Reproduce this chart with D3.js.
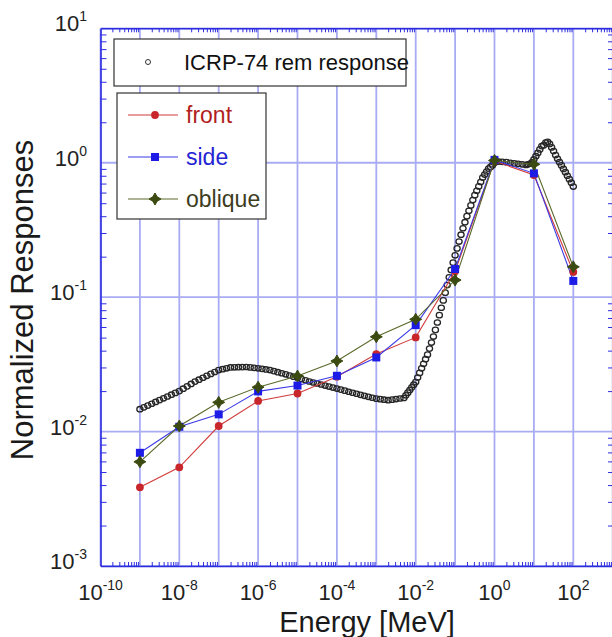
<!DOCTYPE html>
<html><head><meta charset="utf-8">
<script src="https://cdn.jsdelivr.net/npm/d3@7"></script>
<style>body{margin:0;background:#fff}svg{display:block}</style>
</head><body>
<svg id="c" width="612" height="637"></svg>
<script>
// ---------- data ----------
const energies = [1e-9,1e-8,1e-7,1e-6,1e-5,1e-4,1e-3,1e-2,1e-1,1e0,1e1,1e2];
const front   = [0.00385,0.00542,0.0110,0.0169,0.0192,0.0256,0.0377,0.0502,0.156,1.03,0.81,0.154];
const side    = [0.00695,0.01086,0.01343,0.0199,0.0220,0.0260,0.0356,0.0619,0.162,1.05,0.834,0.132];
const oblique = [0.00596,0.0110,0.0165,0.0214,0.0259,0.0335,0.0507,0.0684,0.134,1.04,0.973,0.168];

const icrpLogEnergy = [-9.0,-8.9,-8.8,-8.7,-8.6,-8.5,-8.4,-8.3,-8.2,-8.1,-8.0,-7.9,-7.8,-7.7,-7.6,-7.5,-7.4,-7.3,-7.2,-7.1,
 -7.0,-6.9,-6.8,-6.7,-6.6,-6.5,-6.4,-6.3,-6.2,-6.1,-6.0,-5.9,-5.8,-5.7,-5.6,-5.5,-5.4,-5.3,-5.2,-5.1,
 -5.0,-4.9,-4.8,-4.7,-4.6,-4.5,-4.4,-4.3,-4.2,-4.1,-4.0,-3.9,-3.8,-3.7,-3.6,-3.5,-3.4,-3.3,-3.2,-3.1,
 -3.0,-2.9,-2.8,-2.7,-2.6,-2.5,-2.4,-2.3,-2.25,-2.2,-2.15,-2.1,-2.05,-2.0,-1.95,-1.9,-1.85,-1.8,-1.75,-1.7,
 -1.65,-1.6,-1.55,-1.5,-1.45,-1.4,-1.35,-1.3,-1.25,-1.2,-1.15,-1.1,-1.05,-1.0,-0.95,-0.9,-0.85,-0.8,-0.75,-0.7,
 -0.65,-0.6,-0.55,-0.5,-0.45,-0.4,-0.35,-0.3,-0.25,-0.2,-0.15,-0.1,-0.05,0.0,0.1,0.2,0.3,0.4,0.5,0.6,
 0.7,0.8,0.85,0.9,0.95,1.0,1.05,1.1,1.15,1.2,1.25,1.3,1.35,1.4,1.45,1.5,1.55,1.6,1.65,1.7,
 1.75,1.8,1.85,1.9,1.95,2.0];
const icrpResponse = [0.01467,0.01514,0.01561,0.01610,0.01661,0.01714,0.01768,0.01823,0.01881,0.01940,
 0.02001,0.02084,0.02170,0.02260,0.02353,0.02432,0.02515,0.02599,0.02686,0.02775,
 0.02868,0.02911,0.02956,0.03000,0.03006,0.03012,0.03017,0.03023,0.03001,0.02979,
 0.02957,0.02928,0.02898,0.02869,0.02817,0.02766,0.02716,0.02667,0.02614,0.02563,
 0.02512,0.02460,0.02408,0.02357,0.02317,0.02278,0.02239,0.02200,0.02163,0.02126,
 0.02090,0.02052,0.02015,0.01979,0.01945,0.01911,0.01878,0.01845,0.01815,0.01785,
 0.01757,0.01742,0.01727,0.01712,0.01728,0.01745,0.01762,0.01778,0.01862,0.01948,
 0.02039,0.02133,0.02232,0.02334,0.02524,0.02731,0.02954,0.03194,0.03455,0.03736,
 0.04141,0.04594,0.05093,0.05706,0.06477,0.07348,0.08337,0.09460,0.1080,0.1231,
 0.1405,0.1593,0.1806,0.2048,0.2304,0.2592,0.2915,0.3256,0.3610,0.4003,
 0.4389,0.4813,0.5277,0.5740,0.6187,0.6668,0.7190,0.7751,0.8164,0.8601,
 0.9042,0.9313,0.9594,1.000,1.020,1.015,1.010,0.9986,0.9886,0.981,
 0.9737,0.962,0.9737,0.9826,1.0074,1.0578,1.118,1.183,1.256,1.329,
 1.35,1.41,1.43,1.38,1.30,1.22,1.14,1.07,1.01,0.955,
 0.90,0.85,0.80,0.755,0.71,0.665];

const xTickExps = [-10,-8,-6,-4,-2,0,2];
const yTickExps = [-3,-2,-1,0,1];
const seriesNames = ["front","side","oblique"];
const icrpName = "ICRP-74 rem response";

// ---------- layout ----------
const L = 100.5, R = 612.7, T = 28.3, B = 566, RAXIS = 614;
const svg = d3.select("#c");
const x = d3.scaleLog().domain([1e-10, 1e3]).range([L, R]);
const y = d3.scaleLog().domain([1e-3, 1e1]).range([B, T]);
const FONT = "Liberation Sans, Arial, Helvetica, sans-serif";
const axisCol = "#2d2de0", gridCol = "#a9acf3";

svg.append("rect").attr("x",0).attr("y",0).attr("width",612).attr("height",637).attr("fill","#ffffff");

// grid
const decadesX = d3.range(-10, 4).map(e => Math.pow(10, e));
const decadesY = d3.range(-3, 2).map(e => Math.pow(10, e));
svg.append("g").selectAll("line").data(decadesX).join("line")
  .attr("x1", d => x(d)).attr("x2", d => x(d)).attr("y1", T).attr("y2", B)
  .attr("stroke", gridCol).attr("stroke-width", 1.8);
svg.append("g").selectAll("line").data(decadesY).join("line")
  .attr("y1", d => y(d)).attr("y2", d => y(d)).attr("x1", L).attr("x2", RAXIS)
  .attr("stroke", gridCol).attr("stroke-width", 1.8);

// minor tick positions (2..9 in every decade)
function minorTicks(e0, e1){ const out = []; for (let e = e0; e < e1; e++) for (let k = 2; k <= 9; k++) out.push(k * Math.pow(10, e)); return out; }
const xMinor = minorTicks(-10, 3);
const yMinor = minorTicks(-3, 1);
function styleAxis(g){ g.select(".domain").attr("stroke", axisCol).attr("stroke-width", 1.6);
  g.selectAll(".tick line").attr("stroke", axisCol).attr("stroke-width", 1); g.selectAll("text").remove(); }
svg.append("g").attr("transform",`translate(0,${B})`).call(d3.axisBottom(x).tickValues(xMinor).tickSize(-4).tickSizeOuter(0)).call(styleAxis);
svg.append("g").attr("transform",`translate(0,${T})`).call(d3.axisTop(x).tickValues(xMinor).tickSize(-4).tickSizeOuter(0)).call(styleAxis);
svg.append("g").attr("transform",`translate(${L},0)`).call(d3.axisLeft(y).tickValues(yMinor).tickSize(-6).tickSizeOuter(0)).call(styleAxis);
svg.append("g").attr("transform",`translate(${RAXIS},0)`).call(d3.axisRight(y).tickValues(yMinor).tickSize(-6).tickSizeOuter(0)).call(styleAxis);

// tick labels
const xl = svg.append("g").selectAll("text").data(xTickExps).join("text")
  .attr("x", e => x(Math.pow(10, e))).attr("y", 600).attr("text-anchor","middle")
  .attr("font-family", FONT).attr("font-size", 22).attr("fill","#222");
xl.append("tspan").text("10");
xl.append("tspan").attr("dy",-10).attr("font-size",14).text(e => String(e));
const yl = svg.append("g").selectAll("text").data(yTickExps).join("text")
  .attr("x", 87).attr("y", e => y(Math.pow(10, e)) + 3).attr("text-anchor","end")
  .attr("font-family", FONT).attr("font-size", 22).attr("fill","#222");
yl.append("tspan").text("10");
yl.append("tspan").attr("dy",-10).attr("font-size",14).text(e => String(e));

// axis titles
svg.append("text").attr("x", 367).attr("y", 632).attr("text-anchor","middle")
  .attr("font-family", FONT).attr("font-size", 29).attr("fill","#1a1a1a").text("Energy [MeV]");
svg.append("text").attr("transform","translate(33,300) rotate(-90)").attr("text-anchor","middle")
  .attr("font-family", FONT).attr("font-size", 31).attr("fill","#1a1a1a").text("Normalized Responses");

// ICRP curve (open circles)
const icrp = icrpLogEnergy.map((e, i) => ({E: Math.pow(10, e), v: icrpResponse[i]}));
svg.append("g").selectAll("ellipse").data(icrp).join("ellipse")
  .attr("cx", d => x(d.E)).attr("cy", d => y(d.v)).attr("rx", 3.1).attr("ry", 2.7)
  .attr("fill","none").attr("stroke","#262626").attr("stroke-width",1.3);

// series
const series = [
  {name: seriesNames[0], vals: front, line: "#d23c3c", fill: "#c8262a", text: "#b01e1e", sym: "circle"},
  {name: seriesNames[1], vals: side, line: "#3a3ae6", fill: "#1c1ce6", text: "#2424d4", sym: "square"},
  {name: seriesNames[2], vals: oblique, line: "#5a6a2a", fill: "#3b4a10", text: "#3d3d1e", sym: "star4"}
];
const lineGen = d3.line().x(d => x(d[0])).y(d => y(d[1]));
const star4 = "M0,-6L2.2,-2.2L6,0L2.2,2.2L0,6L-2.2,2.2L-6,0L-2.2,-2.2Z";
function drawMarker(g, sym, cx, cy, fill){
  if (sym === "circle") g.append("circle").attr("cx",cx).attr("cy",cy).attr("r",3.9).attr("fill",fill);
  else if (sym === "square") g.append("rect").attr("x",cx-4).attr("y",cy-4).attr("width",8).attr("height",8).attr("fill",fill);
  else g.append("path").attr("transform",`translate(${cx},${cy})`).attr("d", star4).attr("fill",fill)
        .attr("stroke",fill).attr("stroke-width",1).attr("stroke-linejoin","round");
}
series.forEach(s => {
  const pts = energies.map((e, i) => [e, s.vals[i]]);
  svg.append("path").attr("d", lineGen(pts)).attr("fill","none").attr("stroke", s.line).attr("stroke-width",1.1);
});
series.forEach(s => {
  const g = svg.append("g");
  energies.forEach((e, i) => drawMarker(g, s.sym, x(e), y(s.vals[i]), s.fill));
});

// legend 1
svg.append("rect").attr("x",114).attr("y",39).attr("width",292).attr("height",47)
  .attr("fill","#fff").attr("stroke","#333").attr("stroke-width",1.2);
svg.append("circle").attr("cx",148).attr("cy",62).attr("r",2.5).attr("fill","none").attr("stroke","#333");
svg.append("text").attr("x",184).attr("y",70).attr("font-family",FONT).attr("font-size",22)
  .attr("fill","#111").text(icrpName);

// legend 2
svg.append("rect").attr("x",117).attr("y",93).attr("width",149).attr("height",126)
  .attr("fill","#fff").attr("stroke","#333").attr("stroke-width",1.2);
series.forEach((s, i) => {
  const cy = 115 + i * 42;
  const g = svg.append("g");
  g.append("line").attr("x1",128).attr("x2",178).attr("y1",cy).attr("y2",cy).attr("stroke",s.line).attr("stroke-width",1.2);
  drawMarker(g, s.sym, 155, cy, s.fill);
  g.append("text").attr("x",186).attr("y",cy+8).attr("font-family",FONT).attr("font-size",23)
    .attr("fill",s.text).text(s.name);
});
</script>
</body></html>
